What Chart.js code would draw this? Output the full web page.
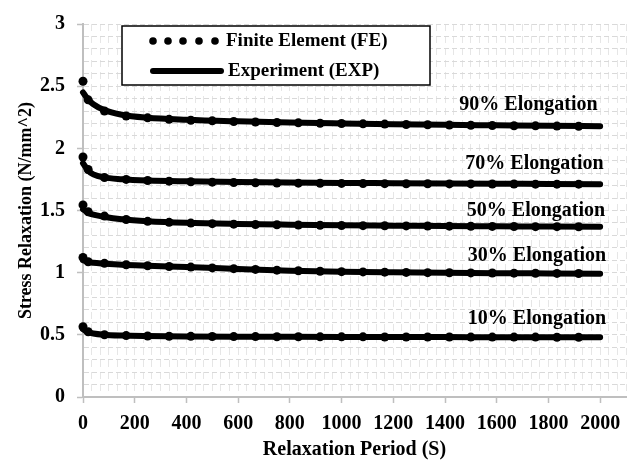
<!DOCTYPE html>
<html>
<head>
<meta charset="utf-8">
<script src="https://cdn.jsdelivr.net/npm/chart.js@4/dist/chart.umd.min.js"></script>
<style>
  body { margin: 0; background: #fff; }
  #wrap { width: 637px; height: 462px; }
</style>
</head>
<body>
<div id="wrap"><canvas id="myChart" width="637" height="462"></canvas></div>
<script>
// experiment (EXP) curves, time in seconds
const expX = [0, 10, 20, 40, 80, 150, 250, 400, 600, 800, 1000, 1200, 1400, 1600, 1800, 2000];
const exp90 = [2.45, 2.42, 2.39, 2.355, 2.31, 2.27, 2.246, 2.23, 2.217, 2.207, 2.2, 2.194, 2.189, 2.185, 2.181, 2.178];
const exp70 = [1.88, 1.85, 1.82, 1.79, 1.766, 1.752, 1.742, 1.735, 1.729, 1.725, 1.722, 1.72, 1.718, 1.716, 1.714, 1.712];
const exp50 = [1.51, 1.495, 1.482, 1.466, 1.45, 1.43, 1.414, 1.401, 1.392, 1.386, 1.381, 1.378, 1.375, 1.373, 1.371, 1.369];
const exp30 = [1.10, 1.092, 1.086, 1.08, 1.073, 1.063, 1.055, 1.045, 1.03, 1.016, 1.008, 1.003, 0.999, 0.996, 0.994, 0.992];
const exp10 = [0.545, 0.532, 0.522, 0.511, 0.501, 0.494, 0.49, 0.487, 0.485, 0.484, 0.483, 0.482, 0.482, 0.481, 0.481, 0.48];

// finite element (FE) points
const feX = [0, 20, 83, 167, 250, 333, 417, 500, 583, 667, 750, 833, 917, 1000, 1083, 1167, 1250, 1333, 1417, 1500, 1583, 1667, 1750, 1833, 1917];
const fe90 = [2.54, 2.39, 2.30, 2.26, 2.245, 2.233, 2.226, 2.221, 2.216, 2.212, 2.208, 2.205, 2.202, 2.2, 2.197, 2.195, 2.192, 2.19, 2.188, 2.186, 2.184, 2.182, 2.181, 2.179, 2.178];
const fe70 = [1.93, 1.83, 1.765, 1.75, 1.741, 1.736, 1.731, 1.728, 1.725, 1.723, 1.721, 1.72, 1.719, 1.718, 1.717, 1.716, 1.715, 1.715, 1.714, 1.714, 1.713, 1.713, 1.712, 1.712, 1.712];
const fe50 = [1.545, 1.49, 1.455, 1.428, 1.413, 1.405, 1.399, 1.394, 1.39, 1.387, 1.385, 1.383, 1.381, 1.379, 1.378, 1.377, 1.376, 1.375, 1.374, 1.373, 1.372, 1.371, 1.37, 1.37, 1.369];
const fe30 = [1.122, 1.088, 1.075, 1.064, 1.056, 1.05, 1.045, 1.038, 1.032, 1.026, 1.02, 1.015, 1.011, 1.008, 1.006, 1.004, 1.002, 1.0, 0.999, 0.998, 0.997, 0.996, 0.995, 0.994, 0.993];
const fe10 = [0.565, 0.525, 0.501, 0.494, 0.491, 0.489, 0.488, 0.487, 0.486, 0.486, 0.485, 0.485, 0.484, 0.484, 0.484, 0.483, 0.483, 0.483, 0.483, 0.482, 0.482, 0.482, 0.482, 0.481, 0.481];

// curve labels and where they sit (data units)
const curveNames = ['90% Elongation', '70% Elongation', '50% Elongation', '30% Elongation', '10% Elongation'];
const nameX = [1723, 1746, 1752, 1756, 1756];
const nameY = [2.35, 1.872, 1.50, 1.138, 0.626];

const legendNames = ['Finite Element (FE)', 'Experiment (EXP)'];

const FONT = "'Liberation Serif', 'Times New Roman', serif";

function pts(xs, ys) {
    return xs.map((x, i) => ({x: x, y: ys[i]}));
}

let datasets = [];
[exp90, exp70, exp50, exp30, exp10].forEach(ys => {
    datasets.push({
        data: pts(expX, ys),
        showLine: true,
        borderColor: '#000',
        borderWidth: 6,
        pointRadius: 0,
        cubicInterpolationMode: 'monotone',
        borderCapStyle: 'round',
        clip: false
    });
});
[fe90, fe70, fe50, fe30, fe10].forEach(ys => {
    datasets.push({
        data: pts(feX, ys),
        showLine: false,
        pointRadius: 4.5,
        pointBackgroundColor: '#000',
        pointBorderWidth: 0,
        clip: false
    });
});

const isMajor = (v, step) => Math.abs(v / step - Math.round(v / step)) < 1e-6;
const isXLabel = v => isMajor(v, 200) && v < 2001;

const extras = {
    id: 'extras',
    afterDatasetsDraw(chart) {
        const ctx = chart.ctx;
        const xs = chart.scales.x, ys = chart.scales.y;
        ctx.save();
        ctx.fillStyle = '#000';
        ctx.font = 'bold 20px ' + FONT;
        ctx.textAlign = 'center';
        ctx.textBaseline = 'middle';
        curveNames.forEach((t, i) => {
            ctx.fillText(t, xs.getPixelForValue(nameX[i]), ys.getPixelForValue(nameY[i]));
        });

        // legend box
        ctx.fillStyle = '#fff';
        ctx.fillRect(122, 26, 308, 59);
        ctx.strokeStyle = '#000';
        ctx.lineWidth = 1.5;
        ctx.strokeRect(122, 26, 308, 59);
        ctx.fillStyle = '#000';
        [153, 168, 183, 199, 215].forEach(x => {
            ctx.beginPath();
            ctx.arc(x, 41, 3.8, 0, Math.PI * 2);
            ctx.fill();
        });
        ctx.lineWidth = 6;
        ctx.lineCap = 'round';
        ctx.beginPath();
        ctx.moveTo(153, 71);
        ctx.lineTo(221, 71);
        ctx.stroke();
        ctx.font = 'bold 19px ' + FONT;
        ctx.textAlign = 'left';
        ctx.fillText(legendNames[0], 226, 41);
        ctx.fillText(legendNames[1], 228, 71);
        ctx.restore();
    }
};

new Chart('myChart', {
    type: 'scatter',
    data: { datasets: datasets },
    options: {
        responsive: false,
        animation: false,
        devicePixelRatio: 1,
        layout: { padding: { top: 20, right: 11, left: 0, bottom: 0 } },
        plugins: { legend: { display: false }, tooltip: { enabled: false } },
        scales: {
            x: {
                type: 'linear',
                min: 0,
                max: 2100,
                afterFit: s => { s.height = 65; },
                ticks: {
                    stepSize: 100 / 3,
                    maxTicksLimit: 1000,
                    autoSkip: false,
                    maxRotation: 0,
                    minRotation: 0,
                    padding: 9,
                    color: '#000',
                    font: { family: FONT, size: 20, weight: 'bold' },
                    callback: v => isXLabel(v) ? String(Math.round(v)) : ''
                },
                grid: {
                    color: '#e6e6e6',
                    lineWidth: 1,
                    tickLength: 6,
                    tickWidth: 1.5,
                    tickColor: c => (c.tick && isXLabel(c.tick.value)) ? '#bfbfbf' : 'rgba(0,0,0,0)'
                },
                border: { color: '#bfbfbf', width: 2, dash: [7, 5] },
                title: {
                    display: true,
                    text: 'Relaxation Period (S)',
                    color: '#000',
                    font: { family: FONT, size: 20, weight: 'bold' },
                    padding: { top: 0, bottom: 0 }
                }
            },
            y: {
                min: 0,
                max: 3,
                afterFit: s => { s.width = 83; },
                ticks: {
                    stepSize: 0.1,
                    maxTicksLimit: 1000,
                    autoSkip: false,
                    padding: 12,
                    color: '#000',
                    font: { family: FONT, size: 20, weight: 'bold' },
                    callback: v => isMajor(v, 0.5) ? String(Math.round(v * 10) / 10) : ''
                },
                grid: {
                    color: '#d9d9d9',
                    lineWidth: 1,
                    tickLength: 6,
                    tickWidth: 1.5,
                    tickColor: c => (c.tick && isMajor(c.tick.value, 0.5)) ? '#bfbfbf' : 'rgba(0,0,0,0)'
                },
                border: { color: '#bfbfbf', width: 2, dash: [5, 3] },
                title: {
                    display: true,
                    text: 'Stress Relaxation (N/mm^2)',
                    color: '#000',
                    font: { family: FONT, size: 18, weight: 'bold' },
                    padding: { top: 16, bottom: 0 }
                }
            }
        }
    },
    plugins: [extras]
});
</script>
</body>
</html>
